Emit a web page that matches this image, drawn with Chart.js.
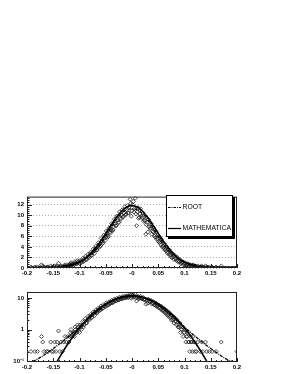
<!DOCTYPE html>
<html>
<head>
<meta charset="utf-8">
<script src="https://cdn.jsdelivr.net/npm/chart.js@4"></script>
<style>
  body { margin: 0; background: #fff; }
  canvas { position: absolute; left: 0; }
  #linChart { top: 190px; }
  #logChart { top: 285px; }
</style>
</head>
<body>
<canvas id="linChart" width="289" height="90"></canvas>
<canvas id="logChart" width="289" height="89"></canvas>
<script>
// histogram bins (x) and contents
const histX = [
  -0.2, -0.1975, -0.195, -0.1925, -0.19, -0.1875, -0.185, -0.1825, -0.18, -0.1775,
  -0.175, -0.1725, -0.17, -0.1675, -0.165, -0.1625, -0.16, -0.1575, -0.155, -0.1525,
  -0.15, -0.1475, -0.145, -0.1425, -0.14, -0.1375, -0.135, -0.1325, -0.13, -0.1275,
  -0.125, -0.1225, -0.12, -0.1175, -0.115, -0.1125, -0.11, -0.1075, -0.105, -0.1025,
  -0.1, -0.0975, -0.095, -0.0925, -0.09, -0.0875, -0.085, -0.0825, -0.08, -0.0775,
  -0.075, -0.0725, -0.07, -0.0675, -0.065, -0.0625, -0.06, -0.0575, -0.055, -0.0525,
  -0.05, -0.0475, -0.045, -0.0425, -0.04, -0.0375, -0.035, -0.0325, -0.03, -0.0275,
  -0.025, -0.0225, -0.02, -0.0175, -0.015, -0.0125, -0.01, -0.0075, -0.005, -0.0025,
  0,
  0.0025, 0.005, 0.0075, 0.01, 0.0125, 0.015, 0.0175, 0.02, 0.0225, 0.025,
  0.0275, 0.03, 0.0325, 0.035, 0.0375, 0.04, 0.0425, 0.045, 0.0475, 0.05,
  0.0525, 0.055, 0.0575, 0.06, 0.0625, 0.065, 0.0675, 0.07, 0.0725, 0.075,
  0.0775, 0.08, 0.0825, 0.085, 0.0875, 0.09, 0.0925, 0.095, 0.0975, 0.1,
  0.1025, 0.105, 0.1075, 0.11, 0.1125, 0.115, 0.1175, 0.12, 0.1225, 0.125,
  0.1275, 0.13, 0.1325, 0.135, 0.1375, 0.14, 0.1425, 0.145, 0.1475, 0.15,
  0.1525, 0.155, 0.1575, 0.16, 0.1625, 0.165, 0.1675, 0.17, 0.1725, 0.175,
  0.1775, 0.18, 0.1825, 0.185, 0.1875, 0.19, 0.1925, 0.195, 0.1975, 0.2
]
const rootHist = [
  0, 0, 0, 0.2, 0, 0, 0.2, 0, 0.2, 0,
  0, 0.6, 0.4, 0.2, 0, 0.2, 0.2, 0, 0.4, 0.2,
  0.2, 0.4, 0.2, 0.4, 0.9, 0.2, 0.4, 0.2, 0.4, 0.6,
  0.4, 0.6, 0.4, 0.8, 0.6, 0.8, 0.6, 1.0, 0.8, 1.2,
  0.8, 1.2, 1.4, 1.2, 1.8, 1.6, 2.0, 2.2, 2.6, 2.4,
  3.0, 3.2, 3.6, 3.4, 4.0, 4.4, 4.2, 5.0, 4.8, 5.6,
  5.8, 6.2, 6.0, 6.8, 7.2, 7.0, 7.8, 8.4, 8.0, 9.0,
  8.6, 9.4, 10.0, 9.6, 10.4, 10.0, 11.0, 10.4, 11.6, 12.2,
  10.8,
  12.6, 11.2, 10.2, 10.6, 9.4, 10.2, 9.8, 9.6, 8.8, 9.0,
  8.2, 6.8, 7.8, 7.4, 6.4, 6.8, 6.0, 5.8, 5.4, 5.0,
  4.8, 4.4, 4.0, 3.8, 3.4, 3.2, 2.8, 2.6, 2.4, 2.0,
  2.0, 1.6, 1.8, 1.4, 1.2, 1.2, 0.8, 1.0, 0.6, 0.8,
  0.4, 0.6, 0.4, 0.2, 0.4, 0.2, 0.4, 0.2, 0.2, 0.4,
  0, 0.2, 0.4, 0.2, 0, 0.4, 0.2, 0, 0.2, 0,
  0.2, 0, 0, 0.2, 0, 0, 0, 0.4, 0, 0,
  0, 0, 0, 0, 0, 0, 0, 0, 0, 0.2
]
// second half-bin set of the same histogram (central part)
const histX2 = [
  -0.11875, -0.11625, -0.11375, -0.11125, -0.10875, -0.10625, -0.10375, -0.10125,
  -0.09875, -0.09625, -0.09375, -0.09125, -0.08875, -0.08625, -0.08375, -0.08125,
  -0.07875, -0.07625, -0.07375, -0.07125, -0.06875, -0.06625, -0.06375, -0.06125,
  -0.05875, -0.05625, -0.05375, -0.05125, -0.04875, -0.04625, -0.04375, -0.04125,
  -0.03875, -0.03625, -0.03375, -0.03125, -0.02875, -0.02625, -0.02375, -0.02125,
  -0.01875, -0.01625, -0.01375, -0.01125, -0.00875, -0.00625, -0.00375, -0.00125,
  0.00125, 0.00375, 0.00625, 0.00875, 0.01125, 0.01375, 0.01625, 0.01875,
  0.02125, 0.02375, 0.02625, 0.02875, 0.03125, 0.03375, 0.03625, 0.03875,
  0.04125, 0.04375, 0.04625, 0.04875, 0.05125, 0.05375, 0.05625, 0.05875,
  0.06125, 0.06375, 0.06625, 0.06875, 0.07125, 0.07375, 0.07625, 0.07875,
  0.08125, 0.08375, 0.08625, 0.08875, 0.09125, 0.09375, 0.09625, 0.09875,
  0.10125, 0.10375, 0.10625, 0.10875, 0.11125, 0.11375, 0.11625, 0.11875
]
const rootHist2 = [
  0.6, 1.0, 0.6, 0.8, 1.2, 0.8, 1.4, 1.0,
  1.4, 1.0, 1.8, 1.4, 2.2, 1.6, 2.6, 2.0,
  3.0, 2.4, 3.6, 2.8, 4.2, 3.4, 4.8, 4.0,
  5.6, 4.6, 6.2, 5.2, 7.0, 5.8, 7.6, 6.6,
  8.4, 7.2, 9.2, 8.0, 9.8, 8.6, 10.6, 9.2,
  11.0, 9.8, 11.6, 10.2, 11.8, 10.4, 13.0, 9.8,
  12.0, 10.6, 13.2, 8.0, 11.4, 9.6, 11.2, 9.4,
  10.4, 9.0, 6.4, 8.6, 9.2, 7.6, 8.4, 7.0,
  7.6, 6.2, 6.8, 5.6, 6.0, 5.0, 5.4, 4.2,
  4.6, 3.6, 4.0, 3.0, 3.4, 2.6, 2.8, 2.2,
  2.4, 1.8, 2.0, 1.4, 1.6, 1.0, 1.2, 0.8,
  1.0, 0.6, 0.8, 0.4, 0.6, 0.4, 0.6, 0.4
]

// fitted curves
const curveX = [
  -0.2, -0.19, -0.18, -0.17, -0.16, -0.15, -0.14, -0.13, -0.12, -0.11,
  -0.1, -0.09, -0.08, -0.07, -0.06, -0.05, -0.04, -0.03, -0.02, -0.01,
  0,
  0.01, 0.02, 0.03, 0.04, 0.05, 0.06, 0.07, 0.08, 0.09, 0.1,
  0.11, 0.12, 0.13, 0.14, 0.15, 0.16, 0.17, 0.18, 0.19, 0.2
]
const rootFit = [
  0.09, 0.097, 0.115, 0.145, 0.19, 0.25, 0.33, 0.45, 0.62, 0.85,
  1.2, 1.7, 2.4, 3.3, 4.5, 6.0, 7.6, 9.1, 10.3, 11.0,
  11.2,
  11.0, 10.3, 9.1, 7.6, 6.0, 4.5, 3.3, 2.4, 1.7, 1.2,
  0.85, 0.62, 0.45, 0.33, 0.25, 0.19, 0.145, 0.115, 0.097, 0.09
]
const mathFit = [
  0.0009, 0.0023, 0.0056, 0.0128, 0.028, 0.058, 0.115, 0.218, 0.393, 0.676,
  1.11, 1.74, 2.6, 3.71, 5.04, 6.54, 8.09, 9.54, 10.74, 11.52,
  11.8,
  11.52, 10.74, 9.54, 8.09, 6.54, 5.04, 3.71, 2.6, 1.74, 1.11,
  0.676, 0.393, 0.218, 0.115, 0.058, 0.028, 0.0128, 0.0056, 0.0023, 0.0009
]

// axes
const xTicks = [-0.2, -0.15, -0.1, -0.05, 0, 0.05, 0.1, 0.15, 0.2]
const xTickLabels = ['-0.2', '-0.15', '-0.1', '-0.05', '-0', '0.05', '0.1', '0.15', '0.2']
const linTicks = [0, 2, 4, 6, 8, 10, 12]
const logTicks = [0.1, 1, 10]
const logTickLabels = ['10\u207B\u00B9', '1', '10']
const legendLabels = ['ROOT', 'MATHEMATICA']

const tickFont = { family: 'Liberation Sans', size: 6, weight: 'bold' }

// frame, inward ROOT-style ticks and the legend box
const frameTicks = {
  id: 'frameTicks',
  afterDraw(chart, args, opts) {
    const { ctx, chartArea: a, scales } = chart
    ctx.save()
    ctx.strokeStyle = '#222'
    ctx.lineWidth = 1
    ctx.strokeRect(a.left + 0.5, a.top + 0.5, a.right - a.left - 1, a.bottom - a.top - 1)

    ctx.beginPath()
    for (let i = -20; i <= 20; i++) {
      const px = Math.round(scales.x.getPixelForValue(i / 100)) + 0.5
      const len = i % 5 === 0 ? 4 : 2
      ctx.moveTo(px, a.bottom)
      ctx.lineTo(px, a.bottom - len)
    }
    opts.yMinor.forEach(([v, major]) => {
      const py = Math.round(scales.y.getPixelForValue(v)) + 0.5
      if (py < a.top || py > a.bottom) return
      ctx.moveTo(a.left, py)
      ctx.lineTo(a.left + (major ? 5 : 2.5), py)
    })
    ctx.stroke()

    if (opts.legend) {
      const x0 = 166, y0 = 5, w = 67, h = 42
      ctx.fillStyle = '#000'
      ctx.fillRect(x0 + 2, y0 + 2, w, h)
      ctx.fillStyle = '#fff'
      ctx.fillRect(x0, y0, w, h)
      ctx.strokeStyle = '#000'
      ctx.strokeRect(x0 + 0.5, y0 + 0.5, w - 1, h - 1)

      ctx.font = '6.8px "Liberation Sans"'
      ctx.textBaseline = 'middle'
      ctx.fillStyle = '#000'
      ctx.lineWidth = 1.2
      ctx.setLineDash([2.5, 1, 1, 1])
      ctx.beginPath()
      ctx.moveTo(168, 17.5)
      ctx.lineTo(181, 17.5)
      ctx.stroke()
      ctx.fillText(legendLabels[0], 182.5, 17.5)
      ctx.setLineDash([])
      ctx.beginPath()
      ctx.moveTo(168, 38.5)
      ctx.lineTo(181, 38.5)
      ctx.stroke()
      ctx.fillText(legendLabels[1], 182.5, 38.5)
    }
    ctx.restore()
  }
}

const linMinor = []
for (let i = 0; i <= 33; i++) linMinor.push([i * 0.4, i % 5 === 0])
const logMinor = []
;[0.01, 0.1, 1, 10].forEach(d => {
  for (let k = 1; k <= 9; k++) logMinor.push([k * d, k === 1])
})

const pointSet = function (xs, ys, keep) {
  return {
    label: 'ROOT data',
    data: xs.map((x, i) => ({ x, y: ys[i] })).filter(keep),
    pointStyle: 'rectRot',
    pointRadius: 2,
    borderColor: '#222',
    borderWidth: 0.8,
    backgroundColor: 'rgba(0,0,0,0)',
    order: 2,
  }
}

const buildSets = function (logScale) {
  const keep = p => !logScale || p.y > 0
  return [
    {
      label: legendLabels[1],
      type: 'line',
      data: curveX.map((x, i) => ({ x, y: mathFit[i] })).filter(keep),
      borderColor: '#000',
      borderWidth: 1.6,
      pointRadius: 0,
      cubicInterpolationMode: 'monotone',
      order: 0,
    },
    {
      label: legendLabels[0],
      type: 'line',
      data: curveX.map((x, i) => ({ x, y: rootFit[i] })).filter(keep),
      borderColor: '#000',
      borderWidth: 1.3,
      borderDash: [3, 1, 1, 1],
      pointRadius: 0,
      cubicInterpolationMode: 'monotone',
      order: 1,
    },
    pointSet(histX, rootHist, keep),
    pointSet(histX2, rootHist2, keep),
  ]
}

const xScale = {
  type: 'linear',
  min: -0.2,
  max: 0.2,
  afterBuildTicks: s => { s.ticks = xTicks.map(v => ({ value: v })) },
  afterFit: s => { s.height = 12 },
  ticks: {
    font: tickFont,
    color: '#000',
    padding: 2,
    maxRotation: 0,
    autoSkip: false,
    callback: v => xTickLabels[xTicks.indexOf(v)],
  },
  grid: { display: false, drawTicks: false },
  border: { display: false },
}

new Chart(document.getElementById('linChart'), {
  type: 'scatter',
  data: { datasets: buildSets(false) },
  options: {
    responsive: false,
    animation: false,
    layout: { padding: { top: 6, right: 52, left: 0, bottom: 0 } },
    plugins: {
      legend: { display: false },
      tooltip: { enabled: false },
      frameTicks: { legend: true, yMinor: linMinor },
    },
    scales: {
      x: xScale,
      y: {
        min: 0,
        max: 13.5,
        afterBuildTicks: s => { s.ticks = linTicks.map(v => ({ value: v })) },
        afterFit: s => { s.width = 27 },
        ticks: { font: tickFont, color: '#000', padding: 3 },
        grid: { color: '#999', lineWidth: 0.8, drawTicks: false },
        border: { display: false, dash: [1, 2] },
      },
    },
  },
  plugins: [frameTicks],
})

new Chart(document.getElementById('logChart'), {
  type: 'scatter',
  data: { datasets: buildSets(true) },
  options: {
    responsive: false,
    animation: false,
    layout: { padding: { top: 7, right: 52, left: 0, bottom: 0 } },
    plugins: {
      legend: { display: false },
      tooltip: { enabled: false },
      frameTicks: { legend: false, yMinor: logMinor },
    },
    scales: {
      x: xScale,
      y: {
        type: 'logarithmic',
        min: 0.093,
        max: 15.5,
        afterBuildTicks: s => { s.ticks = logTicks.map(v => ({ value: v })) },
        afterFit: s => { s.width = 27 },
        ticks: {
          font: tickFont,
          color: '#000',
          padding: 3,
          callback: v => logTickLabels[logTicks.indexOf(v)],
        },
        grid: { display: false, drawTicks: false },
        border: { display: false },
      },
    },
  },
  plugins: [frameTicks],
})
</script>
</body>
</html>
